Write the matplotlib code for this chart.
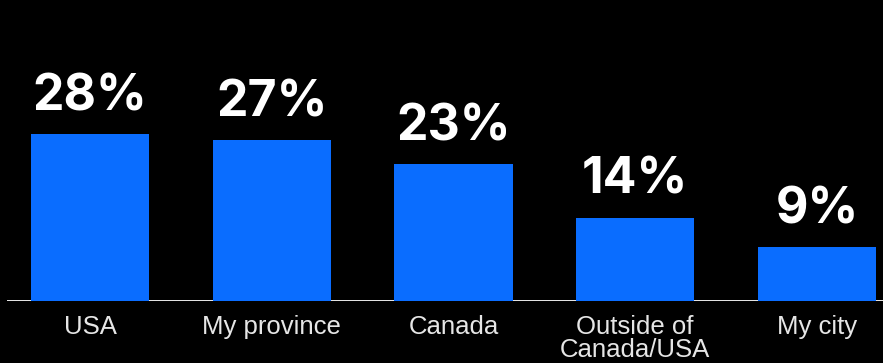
import matplotlib
matplotlib.use('Agg')
import matplotlib.pyplot as plt

categories = ['USA', 'My province', 'Canada', 'Outside of\nCanada/USA', 'My city']
values = [28, 27, 23, 14, 9]

W, H = 883, 363
dpi = 100
px_per_unit = 5.95      # pixels per percentage point
spacing = 181.75        # pixels between bar centres
base_y = 301            # baseline, pixels from top
left_px = 7

fig = plt.figure(figsize=(W / dpi, H / dpi), dpi=dpi, facecolor='black')
ax = fig.add_axes([left_px / W, (H - base_y) / H, 1 - left_px / W, base_y / H])
ax.set_facecolor('black')

x = range(len(categories))
ax.bar(x, values, width=0.65, color='#0A6DFF', zorder=2)

ax.set_xlim(-(90 - left_px) / spacing, (W - 90) / spacing)
ax.set_ylim(0, base_y / px_per_unit)
ax.axhline(0, color='white', lw=2, zorder=1)

for i, v in enumerate(values):
    ax.text(i, v + 4, f'{v}%', ha='center', va='baseline', color='white',
            fontsize=36, fontweight='bold', family='Inter', zorder=3)

ax.set_xticks(list(x))
ax.set_xticklabels(categories, color='#E6E6E6', fontsize=18.5,
                   family='Liberation Sans', linespacing=0.95)
ax.tick_params(axis='x', length=0, pad=10)
ax.set_yticks([])
for s in ax.spines.values():
    s.set_visible(False)

fig.savefig('out.png', dpi=dpi, facecolor='black')
